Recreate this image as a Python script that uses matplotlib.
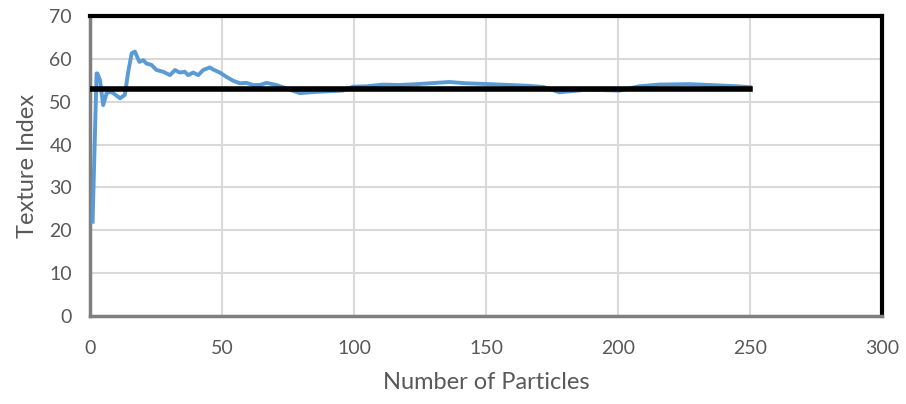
import matplotlib
matplotlib.use("Agg")
import matplotlib.pyplot as plt

particles = [1, 2.5, 2.8, 3.8, 5.0, 6.3, 7.6, 8.8, 11.4, 13.2, 14.5, 15.8, 17.0, 18.7,
             20.2, 21.4, 23.3, 25.2, 27.7, 30.3, 32.2, 34.0, 35.9, 37.2, 39.1, 41.0,
             42.9, 45.4, 46.7, 49.2, 51.7, 54.2, 56.8, 59.3, 61.8, 64.3, 66.9, 70.6,
             73.0, 79.5, 85.8, 95.8, 99.6, 105, 111, 117.3, 123.6, 131.2, 136.2, 142.5,
             151.3, 158.9, 166.5, 172, 177.8, 183, 188, 195, 200.5, 208, 215.7, 227,
             238.4, 245, 250]
texture = [22.0, 56.6, 56.6, 55.0, 49.2, 52.0, 52.3, 52.0, 50.8, 51.6, 57.0, 61.3, 61.7, 59.3,
           59.7, 58.9, 58.6, 57.4, 57.0, 56.2, 57.4, 56.8, 57.0, 56.2, 56.8, 56.2,
           57.4, 58.0, 57.5, 56.8, 55.8, 54.9, 54.3, 54.4, 53.9, 53.9, 54.4, 53.9,
           53.4, 52.0, 52.3, 52.6, 53.5, 53.6, 54.0, 53.9, 54.1, 54.4, 54.6, 54.3,
           54.1, 53.9, 53.7, 53.4, 52.2, 52.5, 52.8, 52.7, 52.6, 53.6, 54.0, 54.1,
           53.8, 53.6, 53.4]
ref_x = [0, 250]
ref_y = [53, 53]

xticks = [0, 50, 100, 150, 200, 250, 300]
yticks = [0, 10, 20, 30, 40, 50, 60, 70]

plt.rcParams['font.family'] = ['Lato', 'DejaVu Sans']
fig = plt.figure(figsize=(9.06, 4.04), dpi=100)
ax = fig.add_axes([0.0993, 0.2178, 0.8742, 0.7426])

ax.plot(particles, texture, color='#5b9bd5', lw=2.8, solid_joinstyle='round', zorder=3)
ax.plot(ref_x, ref_y, color='black', lw=4, zorder=4)

ax.set_xlim(0, 300)
ax.set_ylim(0, 70)
ax.set_xticks(xticks)
ax.set_yticks(yticks)
ax.grid(True, color='#d9d9d9', lw=1.5)
ax.set_axisbelow(True)
ax.tick_params(length=0, labelsize=14, labelcolor='#595959')
ax.tick_params(axis='x', pad=17)
ax.tick_params(axis='y', pad=13)

for s in ['top', 'right']:
    ax.spines[s].set_color('black')
    ax.spines[s].set_linewidth(3)
for s in ['left', 'bottom']:
    ax.spines[s].set_color('#7f7f7f')
    ax.spines[s].set_linewidth(2.5)

ax.set_xlabel('Number of Particles', fontsize=17, color='#595959', labelpad=11)
ax.set_ylabel('Texture Index', fontsize=17, color='#595959', labelpad=8)

fig.savefig('out.png', dpi=100)
